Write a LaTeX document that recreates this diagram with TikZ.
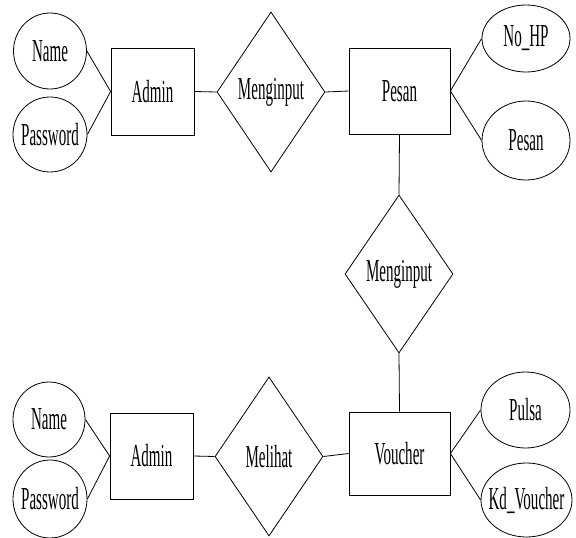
\documentclass[tikz,border=0pt]{standalone}
\usepackage{fontspec}
\setmainfont{Liberation Serif}[FakeStretch=0.47]
\usetikzlibrary{shapes.geometric}
\begin{document}
\begin{tikzpicture}[x=1pt,y=-1pt,
  every node/.style={font=\fontsize{32}{34}\selectfont, inner sep=0pt},
  ent/.style={draw, rectangle, line width=0.8pt},
  attr/.style={draw, ellipse, line width=0.8pt},
  rel/.style={draw, diamond, line width=0.8pt, minimum width=108pt},
  conn/.style={line width=0.8pt}]
\useasboundingbox (0,0) rectangle (576,538);
% top row
\node[attr, minimum width=73pt, minimum height=76pt] (name1) at (50,51) {\makebox[0pt]{Name}};
\node[attr, minimum width=74pt, minimum height=75pt] (pass1) at (50,134.5) {\makebox[0pt]{Password}};
\node[ent, minimum width=83pt, minimum height=87pt] (admin1) at (152.5,91.5) {Admin};
\node[rel, minimum height=160pt] (meng1) at (271,92) {\makebox[0pt]{Menginput}};
\node[ent, minimum width=101pt, minimum height=86pt] (pesan) at (399.5,91) {Pesan};
\node[attr, minimum width=88pt, minimum height=67pt] (nohp) at (526,38.5) {\makebox[0pt]{No\_HP}};
\node[attr, minimum width=88pt, minimum height=79pt] (pesanA) at (526,140.5) {\makebox[0pt]{Pesan}};
% middle
\node[rel, minimum height=158pt] (meng2) at (399,274) {\makebox[0pt]{Menginput}};
% bottom row
\node[ent, minimum width=101pt, minimum height=83pt] (voucher) at (399.5,453.5) {Voucher};
\node[attr, minimum width=89pt, minimum height=76pt] (pulsa) at (525.5,410) {\makebox[0pt]{Pulsa}};
\node[attr, minimum width=91pt, minimum height=74pt] (kd) at (526.5,500) {\makebox[0pt]{Kd\_Voucher}};
\node[attr, minimum width=72pt, minimum height=75pt] (name2) at (49,419.5) {\makebox[0pt]{Name}};
\node[attr, minimum width=74pt, minimum height=78pt] (pass2) at (50,499) {\makebox[0pt]{Password}};
\node[ent, minimum width=83pt, minimum height=86pt] (admin2) at (151.5,456) {Admin};
\node[rel, minimum height=159pt] (melihat) at (269,456.5) {\makebox[0pt]{Melihat}};
% connectors
\draw[conn] (name1.east) -- (admin1.west);
\draw[conn] (pass1.east) -- (admin1.west);
\draw[conn] (admin1.east) -- (meng1.west);
\draw[conn] (meng1.east) -- (pesan.west);
\draw[conn] (pesan.east) -- (nohp.west);
\draw[conn] (pesan.east) -- (pesanA.west);
\draw[conn] (pesan.south) -- (meng2.north);
\draw[conn] (meng2.south) -- (voucher.north);
\draw[conn] (voucher.east) -- (pulsa.west);
\draw[conn] (voucher.east) -- (kd.west);
\draw[conn] (name2.east) -- (admin2.west);
\draw[conn] (pass2.east) -- (admin2.west);
\draw[conn] (admin2.east) -- (melihat.west);
\draw[conn] (melihat.east) -- (voucher.west);
\end{tikzpicture}
\end{document}
